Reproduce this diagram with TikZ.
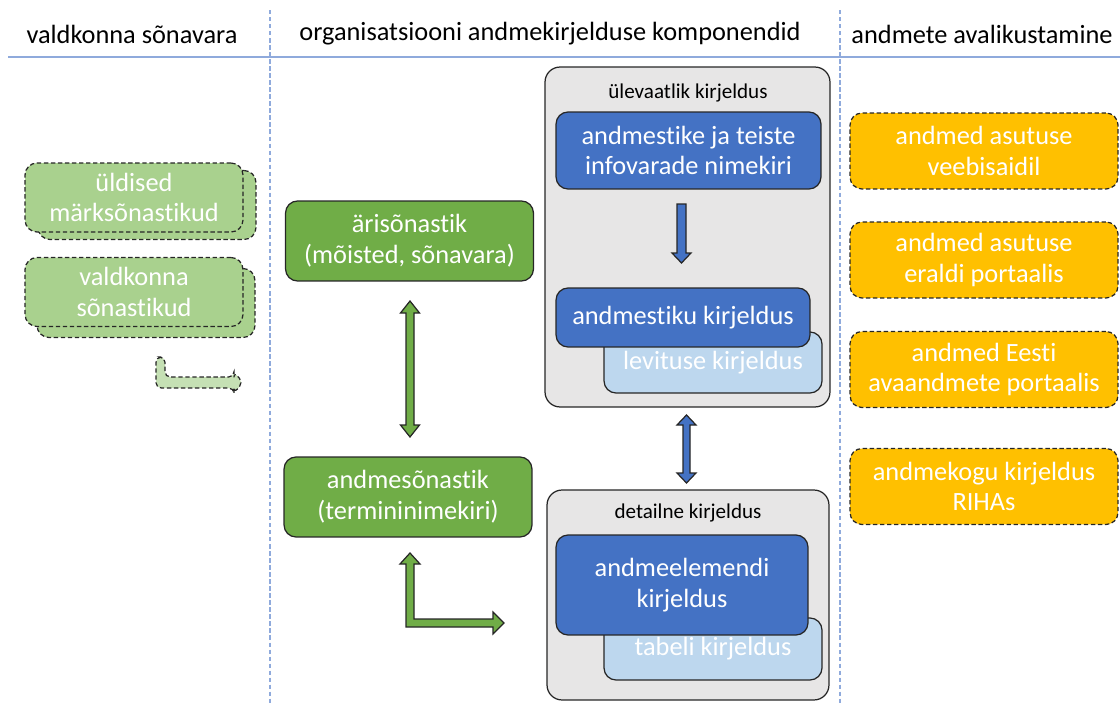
\documentclass[tikz,border=0pt]{standalone}
\usepackage{fontspec}
\setmainfont{Carlito}[Ligatures=NoCommon]
\usetikzlibrary{calc}

\definecolor{sepblue}{HTML}{8FAADC}
\definecolor{paleg}{HTML}{A9D18E}
\definecolor{palerg}{HTML}{C5E0B4}
\definecolor{grn}{HTML}{70AD47}
\definecolor{blu}{HTML}{4472C4}
\definecolor{lblu}{HTML}{BDD7EE}
\definecolor{panelgray}{HTML}{E7E6E6}
\definecolor{orng}{HTML}{FFC000}

\tikzset{
    box/.style={rounded corners=0.24cm, draw=black!85, line width=0.7pt, text=white,
        align=center, inner sep=0pt, font=\fontsize{15}{17.5}\selectfont},
    vocab/.style={box, fill=paleg, dash pattern=on 2.5pt off 1.5pt,
        minimum width=4.36cm, minimum height=1.38cm},
    glossary/.style={box, fill=grn, minimum width=4.96cm, minimum height=1.6cm},
    panel/.style={rounded corners=0.3cm, draw=black!85, line width=0.7pt, fill=panelgray},
    descr/.style={box, fill=blu},
    subdescr/.style={box, fill=lblu},
    publish/.style={box, fill=orng, dash pattern=on 2.5pt off 1.5pt,
        minimum width=5.36cm, minimum height=1.52cm},
    heading/.style={font=\fontsize{15}{18}\selectfont, inner sep=0pt},
    panellabel/.style={font=\fontsize{12}{14}\selectfont, inner sep=0pt},
    sep/.style={sepblue, line width=0.6pt, dash pattern=on 2.5pt off 1.5pt},
    garrow/.style={fill=grn, draw=black!85, line width=0.7pt, line join=miter},
    barrow/.style={fill=blu, draw=black!85, line width=0.7pt, line join=miter}
}

\begin{document}
\begin{tikzpicture}[x=0.02cm, y=-0.02cm]
    \useasboundingbox (0,0) rectangle (1120,703);

    % columns
    \node[heading] (hvocab) at (132,34) {valdkonna sõnavara};
    \node[heading] (hcomp) at (550,34) {organisatsiooni andmekirjelduse komponendid};
    \node[heading] (hpub) at (982,34) {andmete avalikustamine};
    \draw[sepblue, line width=0.9pt] (8,57) -- (1120,57);
    \draw[sep] (270,10) -- (270,703);
    \draw[sep] (840,10) -- (840,703);

    % domain vocabularies
    \node[vocab] (gen2) at (147,205) {};
    \node[vocab] (gen) at (134,197.5) {üldised\\märksõnastikud};
    \node[vocab] (dom2) at (146,303) {};
    \node[vocab] (dom) at (134,292) {valdkonna\\sõnastikud};

    \coordinate (bt) at (156,357);
    \draw[fill=palerg, draw=black!85, line width=0.7pt, dash pattern=on 2.5pt off 1.5pt,
          rounded corners=3pt]
        (bt) -- ++(9,0) -- ++(0,20) -- ++(69,0) -- ++(0,-5) -- ++(9,10.5)
        -- ++(-9,10.5) -- ++(0,-5) -- ++(-78,0) -- cycle;

    % glossaries
    \node[glossary] (biz) at (409.5,241) {ärisõnastik\\(mõisted, sõnavara)};
    \node[glossary] (data) at (408,497) {andmesõnastik\\(termininimekiri)};

    \coordinate (gt) at (410,301);
    \draw[garrow] (gt) -- ++(9.5,12) -- ++(-5.5,0) -- ++(0,112) -- ++(5.5,0) -- ++(-9.5,12)
        -- ++(-9.5,-12) -- ++(5.5,0) -- ++(0,-112) -- ++(-5.5,0) -- cycle;

    \coordinate (lt) at (410,553);
    \draw[garrow] (lt) -- ++(10,11) -- ++(-6,0) -- ++(0,55) -- ++(79,0) -- ++(0,-7)
        -- ++(11,11) -- ++(-11,11) -- ++(0,-7) -- ++(-87,0) -- ++(0,-63)
        -- ++(-6,0) -- cycle;

    % overview
    \node[panel, minimum width=5.7cm, minimum height=6.8cm] (over) at (687.5,237) {};
    \node[panellabel] (overlbl) at (688,93) {ülevaatlik kirjeldus};
    \node[descr, minimum width=5.3cm, minimum height=1.54cm] (list) at (688.5,150.5)
        {andmestike ja teiste\\infovarade nimekiri};
    \node[subdescr, minimum width=4.36cm, minimum height=1.22cm] (distr) at (713,362.5)
        {levituse kirjeldus};
    \node[descr, minimum width=5.08cm, minimum height=1.18cm] (dset) at (683,317.5)
        {andmestiku kirjeldus};

    \coordinate (dn) at (681.5,204);
    \draw[barrow] (dn) -- ++(4.5,0) -- ++(0,49) -- ++(5,0) -- ++(-9.5,10) -- ++(-9.5,-10)
        -- ++(5,0) -- ++(0,-49) -- cycle;

    % details
    \node[panel, minimum width=5.64cm, minimum height=4.2cm] (detail) at (688,595) {};
    \node[panellabel] (detlbl) at (688,513) {detailne kirjeldus};
    \node[subdescr, minimum width=4.36cm, minimum height=1.24cm] (tbl) at (713,649)
        {tabeli kirjeldus};
    \node[descr, minimum width=5.04cm, minimum height=2cm] (elem) at (682,585)
        {andmeelemendi\\kirjeldus};

    \coordinate (bd) at (686.5,415);
    \draw[barrow] (bd) -- ++(9.5,10) -- ++(-6,0) -- ++(0,48) -- ++(6,0) -- ++(-9.5,10)
        -- ++(-9.5,-10) -- ++(6,0) -- ++(0,-48) -- ++(-6,0) -- cycle;

    % publishing
    \node[publish] (web) at (984,151) {andmed asutuse\\veebisaidil};
    \node[publish] (portal) at (984,260) {andmed asutuse\\eraldi portaalis};
    \node[publish] (open) at (984,369.5) {andmed Eesti\\avaandmete portaalis};
    \node[publish] (riha) at (984,486.5) {andmekogu kirjeldus\\RIHAs};
\end{tikzpicture}
\end{document}
